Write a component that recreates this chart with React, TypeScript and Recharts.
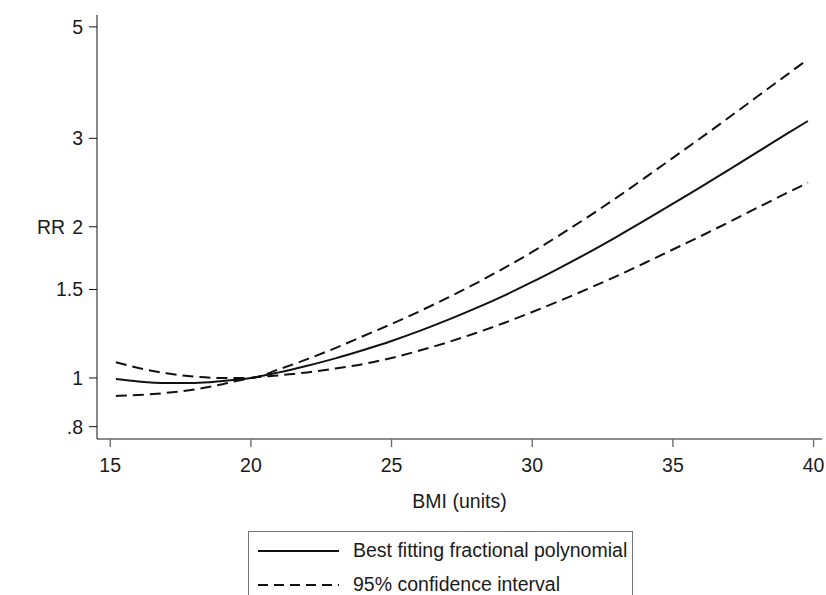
import React from "react";
import { LineChart, Line, XAxis, YAxis } from "recharts";

// BMI grid the curves are read at
const BMI = [
  15.2, 16, 17, 18, 19, 20, 21, 22, 23, 24, 25, 26, 27, 28, 29, 30, 31, 32, 33,
  34, 35, 36, 37, 38, 39, 39.8,
];

// relative risk, best fitting fractional polynomial
const FIT = [
  0.995, 0.984, 0.977, 0.977, 0.986, 1.0, 1.026, 1.058, 1.094, 1.137, 1.185,
  1.241, 1.305, 1.377, 1.459, 1.553, 1.659, 1.777, 1.91, 2.059, 2.223, 2.401,
  2.599, 2.815, 3.05, 3.248,
];

// 95% confidence interval
const UPPER = [
  1.075, 1.047, 1.022, 1.006, 1.0, 1.0, 1.041, 1.09, 1.147, 1.212, 1.281,
  1.358, 1.445, 1.543, 1.655, 1.782, 1.929, 2.096, 2.286, 2.502, 2.743, 3.007,
  3.304, 3.633, 3.995, 4.31,
];
const LOWER = [
  0.921, 0.925, 0.934, 0.949, 0.972, 1.0, 1.012, 1.026, 1.044, 1.066, 1.096,
  1.134, 1.178, 1.229, 1.287, 1.353, 1.426, 1.507, 1.595, 1.694, 1.802, 1.917,
  2.044, 2.182, 2.328, 2.447,
];

const X_TICKS = [15, 20, 25, 30, 35, 40];
const Y_TICKS = [0.8, 1, 1.5, 2, 3, 5];
const Y_TICK_LABELS = [".8", "1", "1.5", "2", "3", "5"];

const LEGEND_ITEMS = [
  { label: "Best fitting fractional polynomial", dash: undefined },
  { label: "95% confidence interval", dash: "10 6" },
];

const FONT = '"Liberation Sans", Arial, sans-serif';
const INK = "#1a1a1a";
const FS = 19.5;

const data = BMI.map((bmi, i) => ({
  bmi,
  fit: FIT[i],
  upper: UPPER[i],
  lower: LOWER[i],
}));

export default function App() {
  return (
    <div
      style={{
        position: "absolute",
        left: 0,
        top: 0,
        width: 826,
        height: 595,
        overflow: "hidden",
        background: "#fff",
        fontFamily: FONT,
      }}
    >
      <LineChart
        width={826}
        height={595}
        data={data}
        margin={{ top: 15, right: 4, bottom: 126, left: 37 }}
      >
        <XAxis
          dataKey="bmi"
          type="number"
          domain={[14.53, 40.3]}
          allowDataOverflow
          ticks={X_TICKS}
          tickSize={8}
          tickMargin={11}
          height={30}
          stroke="#666"
          strokeWidth={1.3}
          tick={{ fill: INK, fontSize: FS, fontFamily: FONT }}
          label={{
            value: "BMI (units)",
            position: "bottom",
            offset: 25,
            fill: INK,
            fontSize: FS,
            fontFamily: FONT,
          }}
        />
        <YAxis
          type="number"
          scale="log"
          domain={[0.756, 5.28]}
          allowDataOverflow
          ticks={Y_TICKS}
          tickFormatter={(v: number) => Y_TICK_LABELS[Y_TICKS.indexOf(v)] ?? String(v)}
          width={60}
          tickSize={8}
          tickMargin={6}
          stroke="#111"
          tick={{ fill: INK, fontSize: FS, fontFamily: FONT }}
          label={{
            value: "RR",
            position: "insideLeft",
            offset: 0,
            fill: INK,
            fontSize: FS,
            fontFamily: FONT,
          }}
        />
        <Line
          dataKey="upper"
          type="monotone"
          stroke="#111"
          strokeWidth={2}
          strokeDasharray="11 6"
          dot={false}
          isAnimationActive={false}
        />
        <Line
          dataKey="lower"
          type="monotone"
          stroke="#111"
          strokeWidth={2}
          strokeDasharray="11 6"
          dot={false}
          isAnimationActive={false}
        />
        <Line
          dataKey="fit"
          type="monotone"
          stroke="#111"
          strokeWidth={2}
          dot={false}
          isAnimationActive={false}
        />
      </LineChart>

      <div
        style={{
          position: "absolute",
          left: 248,
          top: 531,
          width: 385,
          height: 90,
          border: "1px solid #777",
          boxSizing: "border-box",
          paddingTop: 2,
        }}
      >
        {LEGEND_ITEMS.map((item) => (
          <div
            key={item.label}
            style={{
              display: "flex",
              alignItems: "center",
              height: 34,
              color: INK,
              fontSize: FS,
              lineHeight: 1,
            }}
          >
            <svg width={104} height={20} style={{ flex: "none" }}>
              <line
                x1={9}
                y1={10}
                x2={90}
                y2={10}
                stroke="#111"
                strokeWidth={2}
                strokeDasharray={item.dash}
              />
            </svg>
            <span>{item.label}</span>
          </div>
        ))}
      </div>
    </div>
  );
}
